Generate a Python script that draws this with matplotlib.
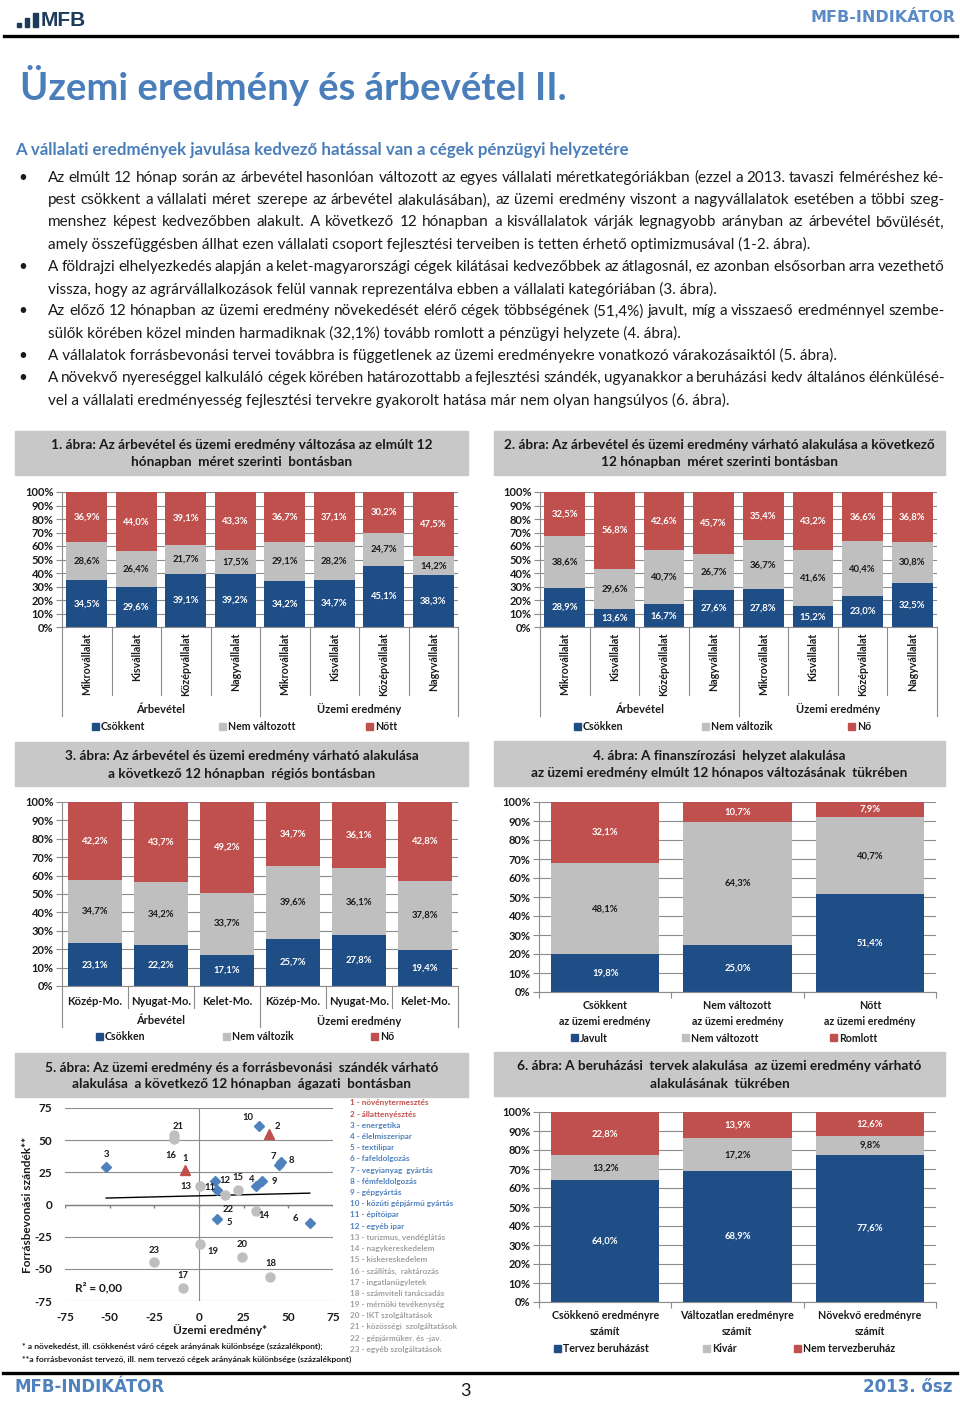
import numpy as np
import matplotlib
matplotlib.use("Agg")
import matplotlib.pyplot as plt
from matplotlib.patches import Rectangle
from matplotlib.lines import Line2D

plt.rcParams["font.family"] = ["Lato", "DejaVu Sans"]

W, H = 960, 1401

NAVY = "#1F4E87"
LIGHT = "#BFBFBF"
RED = "#C0504D"
STEEL = "#4F81BD"
BOX = "#C8C8C8"
HEAD = "#4A7EBB"
AXC = "#8C8C8C"
INK = "#1A1A1A"

# ---------------- data ----------------
sizes = ["Mikrovállalat", "Kisvállalat", "Középvállalat", "Nagyvállalat"]
regions = ["Közép-Mo.", "Nyugat-Mo.", "Kelet-Mo."]
groups = ["Árbevétel", "Üzemi eredmény"]

# 1. ábra
f1_down = [34.5, 29.6, 39.1, 39.2, 34.2, 34.7, 45.1, 38.3]
f1_same = [28.6, 26.4, 21.7, 17.5, 29.1, 28.2, 24.7, 14.2]
f1_up = [36.9, 44.0, 39.1, 43.3, 36.7, 37.1, 30.2, 47.5]
f1_legend = ["Csökkent", "Nem változott", "Nőtt"]

# 2. ábra
f2_down = [28.9, 13.6, 16.7, 27.6, 27.8, 15.2, 23.0, 32.5]
f2_same = [38.6, 29.6, 40.7, 26.7, 36.7, 41.6, 40.4, 30.8]
f2_up = [32.5, 56.8, 42.6, 45.7, 35.4, 43.2, 36.6, 36.8]
f2_legend = ["Csökken", "Nem változik", "Nő"]

# 3. ábra
f3_down = [23.1, 22.2, 17.1, 25.7, 27.8, 19.4]
f3_same = [34.7, 34.2, 33.7, 39.6, 36.1, 37.8]
f3_up = [42.2, 43.7, 49.2, 34.7, 36.1, 42.8]
f3_legend = ["Csökken", "Nem változik", "Nő"]

# 4. ábra
f4_cats = ["Csökkent\naz üzemi eredmény", "Nem változott\naz üzemi eredmény",
           "Nőtt\naz üzemi eredmény"]
f4_better = [19.8, 25.0, 51.4]
f4_same = [48.1, 64.3, 40.7]
f4_worse = [32.1, 10.7, 7.9]
f4_legend = ["Javult", "Nem változott", "Romlott"]

# 5. ábra
sectors = ["növénytermesztés", "állattenyésztés", "energetika", "élelmiszeripar",
           "textilipar", "fafeldolgozás", "vegyianyag  gyártás", "fémfeldolgozás",
           "gépgyártás", "közúti gépjármű gyártás", "építőipar", "egyéb ipar",
           "turizmus, vendéglátás", "nagykereskedelem", "kiskereskedelem",
           "szállítás,  raktározás", "ingatlanügyletek", "számviteli tanácsadás",
           "mérnöki tevékenység", "IKT szolgáltatások", "közösségi  szolgáltatások",
           "gépjárműker. és -jav.", "egyéb szolgáltatások"]
sector_group = ["agri"] * 2 + ["ind"] * 10 + ["serv"] * 11
op_result = [-8, 39, -52, 32, 10, 62, 45, 46, 35, 33.5, 10, 9,
             0.4, 32, 22, -14, -9, 40, 0.4, 24, -14, 14.5, -25]
fund_intent = [27, 55, 29, 14, -11, -14, 31, 33, 18, 61, 11, 18,
               14, -5, 11, 51, -65, -56, -31, -41, 54, 7.5, -45]
# label offsets (pixels, right / up)
lab_off = [(0, 11), (9, 7), (0, 13), (-4, 7), (13, -4), (-14, 4), (-6, 8), (10, 2),
           (13, 0), (-11, 9), (-7, 3), (10, 1), (-14, 0), (8, -5), (0, 13), (-3, -17),
           (0, 13), (0, 13), (13, -7), (0, 13), (4, 9), (3, -15), (0, 12)]

# 6. ábra
f6_cats = ["Csökkenő eredményre\nszámít", "Változatlan eredményre\nszámít",
           "Növekvő eredményre\nszámít"]
f6_plan = [64.0, 68.9, 77.6]
f6_wait = [13.2, 17.2, 9.8]
f6_noplan = [22.8, 13.9, 12.6]
f6_legend = ["Tervez beruházást", "Kivár", "Nem tervezberuház"]

paragraphs = [
    ["Az elmúlt 12 hónap során az árbevétel hasonlóan változott az egyes vállalati méretkategóriákban (ezzel a 2013. tavaszi felméréshez ké-",
     "pest csökkent a vállalati méret szerepe az árbevétel alakulásában), az üzemi eredmény viszont a nagyvállalatok esetében a többi szeg-",
     "menshez képest kedvezőbben alakult. A következő 12 hónapban a kisvállalatok várják legnagyobb arányban az árbevétel bővülését,",
     "amely összefüggésben állhat ezen vállalati csoport fejlesztési terveiben is tetten érhető optimizmusával (1-2. ábra)."],
    ["A földrajzi elhelyezkedés alapján a kelet-magyarországi cégek kilátásai kedvezőbbek az átlagosnál, ez azonban elsősorban arra vezethető",
     "vissza, hogy az agrárvállalkozások felül vannak reprezentálva ebben a vállalati kategóriában (3. ábra)."],
    ["Az előző 12 hónapban az üzemi eredmény növekedését elérő cégek többségének (51,4%) javult, míg a visszaeső eredménnyel szembe-",
     "sülők körében közel minden harmadiknak (32,1%) tovább romlott a pénzügyi helyzete (4. ábra)."],
    ["A vállalatok forrásbevonási tervei továbbra is függetlenek az üzemi eredményekre vonatkozó várakozásaiktól (5. ábra)."],
    ["A növekvő nyereséggel kalkuláló cégek körében határozottabb a fejlesztési szándék, ugyanakkor a beruházási kedv általános élénkülésé-",
     "vel a vállalati eredményesség fejlesztési tervekre gyakorolt hatása már nem olyan hangsúlyos (6. ábra)."],
]

fig = plt.figure(figsize=(W / 100, H / 100), dpi=100)


def add_ax(x0, y0, x1, y1):
    return fig.add_axes([x0 / W, 1 - y1 / H, (x1 - x0) / W, (y1 - y0) / H])


def ftext(x, y, s, **kw):
    kw.setdefault("color", INK)
    return fig.text(x / W, 1 - y / H, s, **kw)


def frect(x0, y0, w, h, color):
    fig.patches.append(Rectangle((x0 / W, 1 - (y0 + h) / H), w / W, h / H,
                                 transform=fig.transFigure, color=color, zorder=0))


def title_box(x0, y0, x1, y1, text):
    frect(x0, y0, x1 - x0, y1 - y0, BOX)
    ftext((x0 + x1) / 2, (y0 + y1) / 2 + 1, text, ha="center", va="center",
          fontsize=9.8, fontweight="bold", linespacing=1.5)


def legend_row(xs, labels, y):
    for x, lab, col in zip(xs, labels, [NAVY, LIGHT, RED]):
        frect(x, y - 4, 7, 7, col)
        ftext(x + 9, y, lab, va="center", fontsize=7.6, fontweight="bold")


def pct(v):
    return f"{v:.1f}%".replace(".", ",")


def stacked(rect, series, fs=6.8, width=0.82):
    ax = add_ax(*rect)
    n = len(series[0])
    x = np.arange(n)
    bottom = np.zeros(n)
    for vals, col, tcol in zip(series, [NAVY, LIGHT, RED], ["white", INK, "white"]):
        vals = np.asarray(vals, float)
        ax.bar(x, vals, width, bottom=bottom, color=col, zorder=2)
        for xi, b, v in zip(x, bottom, vals):
            ax.text(xi, b + v / 2, pct(v), ha="center", va="center", color=tcol,
                    fontsize=fs, fontweight="bold", zorder=3)
        bottom += vals
    ax.set_xlim(-0.5, n - 0.5)
    ax.set_ylim(0, 100)
    ax.set_yticks(range(0, 101, 10))
    ax.set_yticklabels([f"{t}%" for t in range(0, 101, 10)], fontsize=8,
                       fontweight="bold", color=INK)
    ax.yaxis.grid(True, color=AXC, lw=0.8)
    ax.set_axisbelow(True)
    ax.tick_params(axis="y", length=4, color=AXC, pad=2)
    for s in ["top", "right"]:
        ax.spines[s].set_visible(False)
    for s in ["left", "bottom"]:
        ax.spines[s].set_color(AXC)
    return ax


def grouped_axis(ax, rect, cats, rotate, cat_depth, group_depth, group_y, pad):
    n = len(cats)
    h = rect[3] - rect[1]
    tr = ax.get_xaxis_transform()
    ax.set_xticks(np.arange(n))
    ax.set_xticklabels(cats, rotation=90 if rotate else 0, fontsize=7.7 if rotate else 8,
                       fontweight="bold", color=INK)
    ax.tick_params(axis="x", length=0, pad=pad)
    edges = [-0.5, n / 2 - 0.5, n - 0.5]
    for b in np.arange(n + 1) - 0.5:
        d = group_depth if b in edges else cat_depth
        ax.plot([b, b], [0, -d / h], color=AXC, lw=0.8, transform=tr, clip_on=False)
    for gi, g in enumerate(groups):
        ax.text((n / 2) * gi + n / 4 - 0.5, -group_y / h, g, transform=tr, ha="center",
                va="center", fontsize=8, fontweight="bold", color=INK)


def simple_axis(ax, cats):
    n = len(cats)
    ax.set_xticks(np.arange(n + 1) - 0.5)
    ax.set_xticklabels([])
    ax.tick_params(axis="x", which="major", length=4, color=AXC)
    ax.set_xticks(np.arange(n), minor=True)
    ax.set_xticklabels(cats, minor=True, fontsize=7.7, fontweight="bold", color=INK,
                       linespacing=1.5)
    ax.tick_params(axis="x", which="minor", length=0, pad=6)


# ---------------- header ----------------
for bx, bw, bh in [(17, 4, 4), (25, 4, 9), (33, 5, 14)]:
    frect(bx, 27 - bh, bw, bh, "#1B3A5C")
ftext(41, 20, "MFB", fontsize=15, fontweight="bold", color="#1B3A5C", va="center",
      family="Liberation Sans")
ftext(956, 17, "MFB-INDIKÁTOR", fontsize=11.5, fontweight="bold", color="#5B8AC6",
      ha="right", va="center", family="DejaVu Sans")
fig.add_artist(Line2D([4 / W, 957 / W], [1 - 35.5 / H] * 2, lw=2.4, color="black"))

ftext(20, 85, "Üzemi eredmény és árbevétel II.", fontsize=27.5, fontweight="bold",
      color=HEAD, va="center")
ftext(15, 150, "A vállalati eredmények javulása kedvező hatással van a cégek pénzügyi helyzetére",
      fontsize=12.2, fontweight="bold", color=HEAD, va="center")

renderer = fig.canvas.get_renderer()
line_y = 178
for para in paragraphs:
    ftext(18, line_y, "•", fontsize=11, va="center")
    for li, line in enumerate(para):
        last = li == len(para) - 1
        if last:
            ftext(48, line_y, line, fontsize=11, va="center")
        else:
            words = line.split()
            arts = [ftext(48, line_y, w, fontsize=11, va="center") for w in words]
            widths = [a.get_window_extent(renderer).width for a in arts]
            gap = (945 - 48 - sum(widths)) / (len(words) - 1)
            x = 48
            for a, w in zip(arts, widths):
                a.set_x(x / W)
                x += w + gap
        line_y += 22.2

# ---------------- 1. ábra ----------------
title_box(15, 431, 468, 475,
          "1. ábra: Az árbevétel és üzemi eredmény változása az elmúlt 12\nhónapban  méret szerinti  bontásban")
r1 = (62, 492, 458, 627)
ax1 = stacked(r1, [f1_down, f1_same, f1_up])
grouped_axis(ax1, r1, sizes * 2, True, 68, 89, 82, 4)
legend_row([92, 219, 366], f1_legend, 727)

# ---------------- 2. ábra ----------------
title_box(494, 431, 945, 475,
          "2. ábra: Az árbevétel és üzemi eredmény várható alakulása a következő\n12 hónapban  méret szerinti bontásban")
r2 = (540, 492, 937, 627)
ax2 = stacked(r2, [f2_down, f2_same, f2_up])
grouped_axis(ax2, r2, sizes * 2, True, 68, 89, 82, 4)
legend_row([574, 702, 848], f2_legend, 727)

# ---------------- 3. ábra ----------------
title_box(15, 742, 468, 786,
          "3. ábra: Az árbevétel és üzemi eredmény várható alakulása\na következő 12 hónapban  régiós bontásban")
r3 = (62, 802, 458, 986)
ax3 = stacked(r3, [f3_down, f3_same, f3_up])
grouped_axis(ax3, r3, regions * 2, False, 22, 41, 35, 7)
legend_row([96, 223, 371], f3_legend, 1037)

# ---------------- 4. ábra ----------------
title_box(494, 741, 945, 786,
          "4. ábra: A finanszírozási  helyzet alakulása\naz üzemi eredmény elmúlt 12 hónapos változásának  tükrében")
r4 = (539, 802, 936, 992)
ax4 = stacked(r4, [f4_better, f4_same, f4_worse])
simple_axis(ax4, f4_cats)
legend_row([571, 682, 830], f4_legend, 1038)

# ---------------- 5. ábra ----------------
title_box(15, 1053, 468, 1097,
          "5. ábra: Az üzemi eredmény és a forrásbevonási  szándék várható\nalakulása  a következő 12 hónapban  ágazati  bontásban")
ax5 = add_ax(65, 1108, 333, 1301)
ax5.set_xlim(-75, 75)
ax5.set_ylim(-75, 75)
ticks = np.arange(-75, 76, 25)
ax5.set_xticks(ticks)
ax5.set_yticks(ticks)
ax5.set_xticklabels([str(t) for t in ticks], fontsize=8.5, fontweight="bold", color=INK)
ax5.set_yticklabels([str(t) for t in ticks], fontsize=8.5, fontweight="bold", color=INK)
ax5.tick_params(axis="x", length=0, pad=8)
ax5.tick_params(axis="y", length=0, pad=9)
for s in ax5.spines.values():
    s.set_visible(False)
ax5.yaxis.grid(True, color=AXC, lw=0.8)
ax5.set_axisbelow(True)
ax5.axhline(0, color="#7F7F7F", lw=1.0, zorder=1)
ax5.axvline(0, color=AXC, lw=0.8, zorder=1)
ax5.vlines(ticks, -2.5, 0, color="#7F7F7F", lw=1.0, zorder=1)

xs = np.array(op_result)
ys = np.array(fund_intent)
grp = np.array(sector_group)
styles = {"agri": ("^", RED, 6.5), "ind": ("D", STEEL, 5.5), "serv": ("o", LIGHT, 6.5)}
for g, (m, c, ms) in styles.items():
    sel = grp == g
    ax5.plot(xs[sel], ys[sel], m, color=c, ms=ms, mec=c, zorder=3, ls="none")
for i, (x, y) in enumerate(zip(xs, ys)):
    dx, dy = lab_off[i]
    ax5.annotate(str(i + 1), (x, y), xytext=(dx * 0.72, dy * 0.72), textcoords="offset points",
                 ha="center", va="center", fontsize=6.8, fontweight="bold", color=INK)
slope, icpt = np.polyfit(xs, ys, 1)
xl = np.array([xs.min(), xs.max()])
ax5.plot(xl, slope * xl + icpt, color="black", lw=1.0, zorder=2)
r2v = np.corrcoef(xs, ys)[0, 1] ** 2
ftext(75, 1288, f"R² = {r2v:.2f}".replace(".", ","), fontsize=8.5, fontweight="bold", va="center")
ftext(28, 1205, "Forrásbevonási szándék**", rotation=90, ha="center", va="center",
      fontsize=8.5, fontweight="bold")
ftext(220, 1330, "Üzemi eredmény*", ha="center", va="center", fontsize=8.5, fontweight="bold")
ftext(22, 1346, "* a növekedést, ill. csökkenést váró cégek arányának különbsége (százalékpont);",
      fontsize=6.1, fontweight="bold", va="center")
ftext(22, 1359, "**a forrásbevonást tervező, ill. nem tervező cégek arányának különbsége (százalékpont)",
      fontsize=6.1, fontweight="bold", va="center")
sec_col = {"agri": RED, "ind": STEEL, "serv": "#A0A0A0"}
for i, (name, g) in enumerate(zip(sectors, sector_group)):
    ftext(350, 1103 + i * 11.2, f"{i + 1} - {name}", fontsize=5.9, fontweight="bold",
          color=sec_col[g], va="center")

# ---------------- 6. ábra ----------------
title_box(494, 1052, 945, 1096,
          "6. ábra: A beruházási  tervek alakulása  az üzemi eredmény várható\nalakulásának  tükrében")
r6 = (539, 1112, 936, 1302)
ax6 = stacked(r6, [f6_plan, f6_wait, f6_noplan])
simple_axis(ax6, f6_cats)
legend_row([554, 703, 794], f6_legend, 1349)

# ---------------- footer ----------------
fig.add_artist(Line2D([3 / W, 957 / W], [1 - 1373 / H] * 2, lw=2.4, color="black"))
ftext(15, 1387, "MFB-INDIKÁTOR", fontsize=12, fontweight="bold", color=STEEL,
      va="center", family="DejaVu Sans")
ftext(952, 1387, "2013. ősz", fontsize=12, fontweight="bold", color=STEEL,
      ha="right", va="center", family="DejaVu Sans")
ftext(465, 1391, "3", fontsize=13, ha="center", va="center")

fig.savefig("out.png", dpi=100)
